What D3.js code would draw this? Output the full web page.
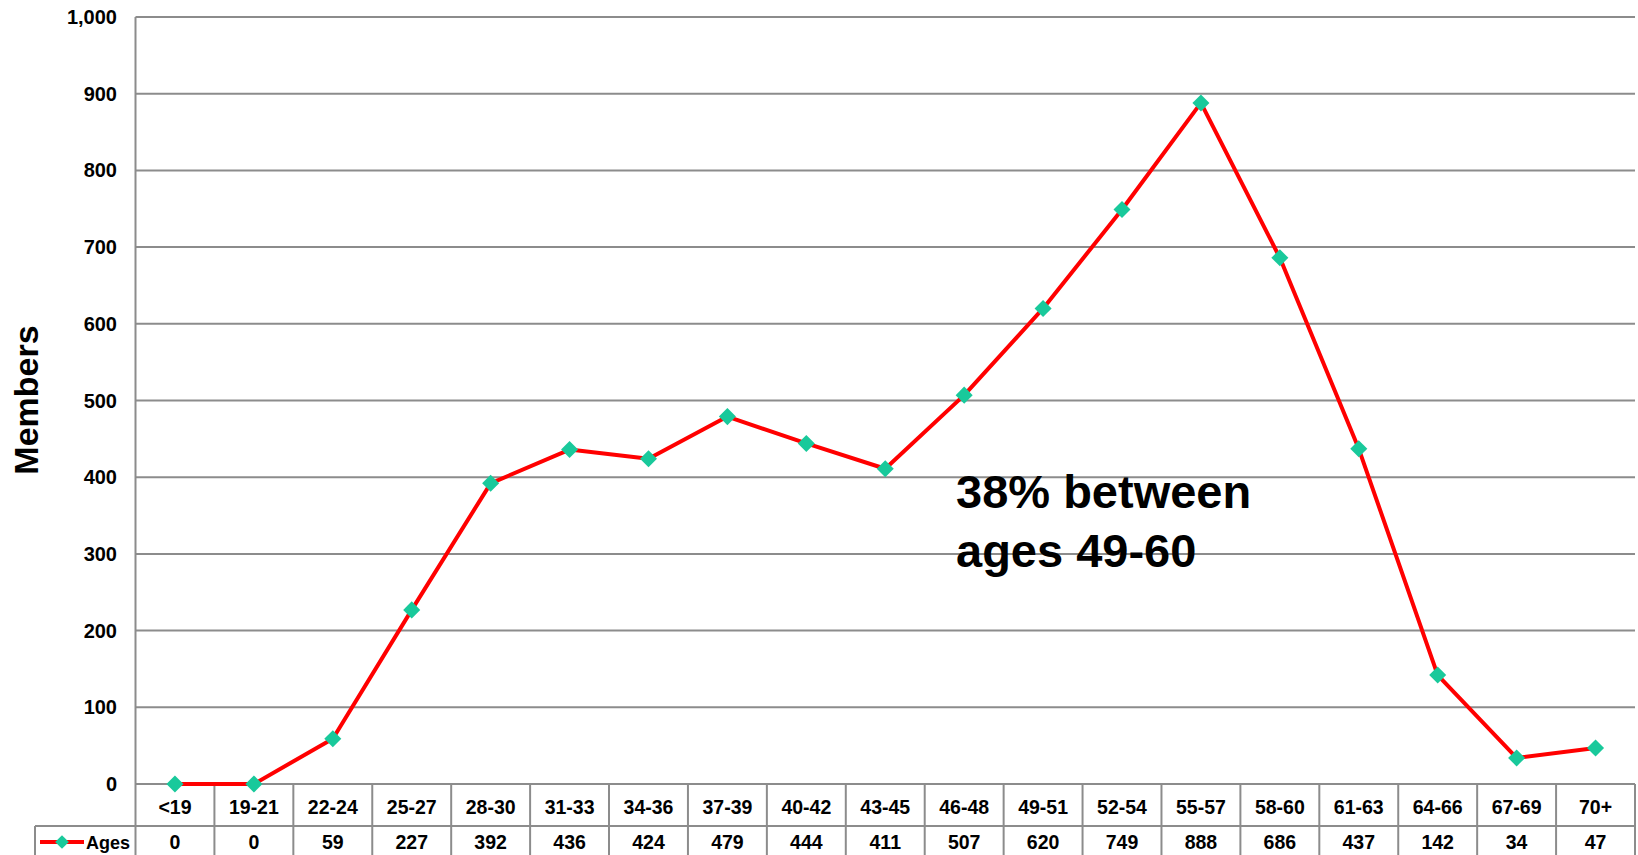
<!DOCTYPE html>
<html>
<head>
<meta charset="utf-8">
<script src="https://cdn.jsdelivr.net/npm/d3@7"></script>
<style>
  body { margin: 0; background: #fff; }
  svg { display: block; font-family: "Liberation Sans", Arial, sans-serif; }
  .grid line { stroke: #8c8c8c; stroke-width: 2; }
  .tbl line { stroke: #8c8c8c; stroke-width: 2; }
  .tick-label { font-size: 20px; font-weight: bold; fill: #000; }
  .cell-label { font-size: 19.5px; font-weight: bold; fill: #000; }
</style>
</head>
<body>
<svg id="chart" width="1638" height="855"></svg>
<script>
// data
let ageGroups = ["<19", "19-21", "22-24", "25-27", "28-30", "31-33", "34-36", "37-39", "40-42",
  "43-45", "46-48", "49-51", "52-54", "55-57", "58-60", "61-63", "64-66", "67-69", "70+"];
let members = [0, 0, 59, 227, 392, 436, 424, 479, 444, 411, 507, 620, 749, 888, 686, 437, 142, 34, 47];
let yTicks = [0, 100, 200, 300, 400, 500, 600, 700, 800, 900, 1000];
let seriesName = "Ages";
let noteLines = ["38% between", "ages 49-60"];

let W = 1638, H = 855;
let plot = { left: 135.5, right: 1635, top: 17, bottom: 784 };
let rowSplit = 826;
let legendLeft = 35;
let lineColor = "#ff0000";
let markerColor = "#19c99b";

let svg = d3.select("#chart");

let x = d3.scaleBand()
  .domain(ageGroups)
  .range([plot.left, plot.right]);

let y = d3.scaleLinear()
  .domain([0, 1000])
  .range([plot.bottom, plot.top]);

// gridlines
svg.append("g")
  .attr("class", "grid")
  .selectAll("line")
  .data(yTicks)
  .enter()
  .append("line")
  .attr("x1", plot.left)
  .attr("x2", plot.right)
  .attr("y1", d => y(d))
  .attr("y2", d => y(d))
;

// y tick labels
svg.append("g")
  .selectAll("text")
  .data(yTicks)
  .enter()
  .append("text")
  .attr("class", "tick-label")
  .attr("x", 117)
  .attr("y", d => y(d))
  .attr("dy", "0.35em")
  .attr("text-anchor", "end")
  .text(d => d3.format(",")(d))
;

// y axis title
svg.append("text")
  .attr("transform", "translate(38,400) rotate(-90)")
  .attr("text-anchor", "middle")
  .style("font-size", "34px")
  .style("font-weight", "bold")
  .text("Members")
;

// data table under the plot
let tbl = svg.append("g").attr("class", "tbl");

// plot left border, runs through the table
tbl.append("line")
  .attr("x1", plot.left).attr("x2", plot.left)
  .attr("y1", plot.top).attr("y2", H);

// column dividers
tbl.selectAll(".col-div")
  .data(ageGroups)
  .enter()
  .append("line")
  .attr("class", "col-div")
  .attr("x1", d => x(d) + x.bandwidth())
  .attr("x2", d => x(d) + x.bandwidth())
  .attr("y1", plot.bottom)
  .attr("y2", H)
;

// row divider, including legend cell top
tbl.append("line")
  .attr("x1", legendLeft).attr("x2", plot.right)
  .attr("y1", rowSplit).attr("y2", rowSplit);
tbl.append("line")
  .attr("x1", legendLeft).attr("x2", legendLeft)
  .attr("y1", rowSplit).attr("y2", H);

// category labels
svg.append("g")
  .selectAll("text")
  .data(ageGroups)
  .enter()
  .append("text")
  .attr("class", "cell-label")
  .attr("x", d => x(d) + x.bandwidth() / 2)
  .attr("y", 814)
  .attr("text-anchor", "middle")
  .text(d => d)
;

// value labels
svg.append("g")
  .selectAll("text")
  .data(members)
  .enter()
  .append("text")
  .attr("class", "cell-label")
  .attr("x", (d, i) => x(ageGroups[i]) + x.bandwidth() / 2)
  .attr("y", 849)
  .attr("text-anchor", "middle")
  .text(d => d)
;

// legend key inside the table
let diamond = d3.symbol().type(d3.symbolDiamond2).size(120);
svg.append("line")
  .attr("x1", 40).attr("x2", 84)
  .attr("y1", 842).attr("y2", 842)
  .attr("stroke", lineColor)
  .attr("stroke-width", 4);
svg.append("path")
  .attr("d", diamond)
  .attr("transform", "translate(62,842)")
  .attr("fill", markerColor);
svg.append("text")
  .attr("x", 86)
  .attr("y", 849)
  .style("font-size", "18px")
  .style("font-weight", "bold")
  .text(seriesName);

// series line
let line = d3.line()
  .x((d, i) => x(ageGroups[i]) + x.bandwidth() / 2)
  .y(d => y(d))
  .curve(d3.curveLinear)
;
svg.append("path")
  .datum(members)
  .attr("d", line)
  .style("fill", "none")
  .style("stroke", lineColor)
  .style("stroke-width", 4)
  .style("stroke-linejoin", "round")
;

svg.append("g")
  .selectAll("path")
  .data(members)
  .enter()
  .append("path")
  .attr("d", d3.symbol().type(d3.symbolDiamond2).size(185))
  .attr("transform", (d, i) => `translate(${x(ageGroups[i]) + x.bandwidth() / 2},${y(d)})`)
  .attr("fill", markerColor)
;

// annotation
svg.append("text")
  .style("font-size", "47px")
  .style("font-weight", "bold")
  .selectAll("tspan")
  .data(noteLines)
  .enter()
  .append("tspan")
  .attr("x", 956)
  .attr("y", (d, i) => 508 + i * 59)
  .text(d => d)
;
</script>
</body>
</html>
